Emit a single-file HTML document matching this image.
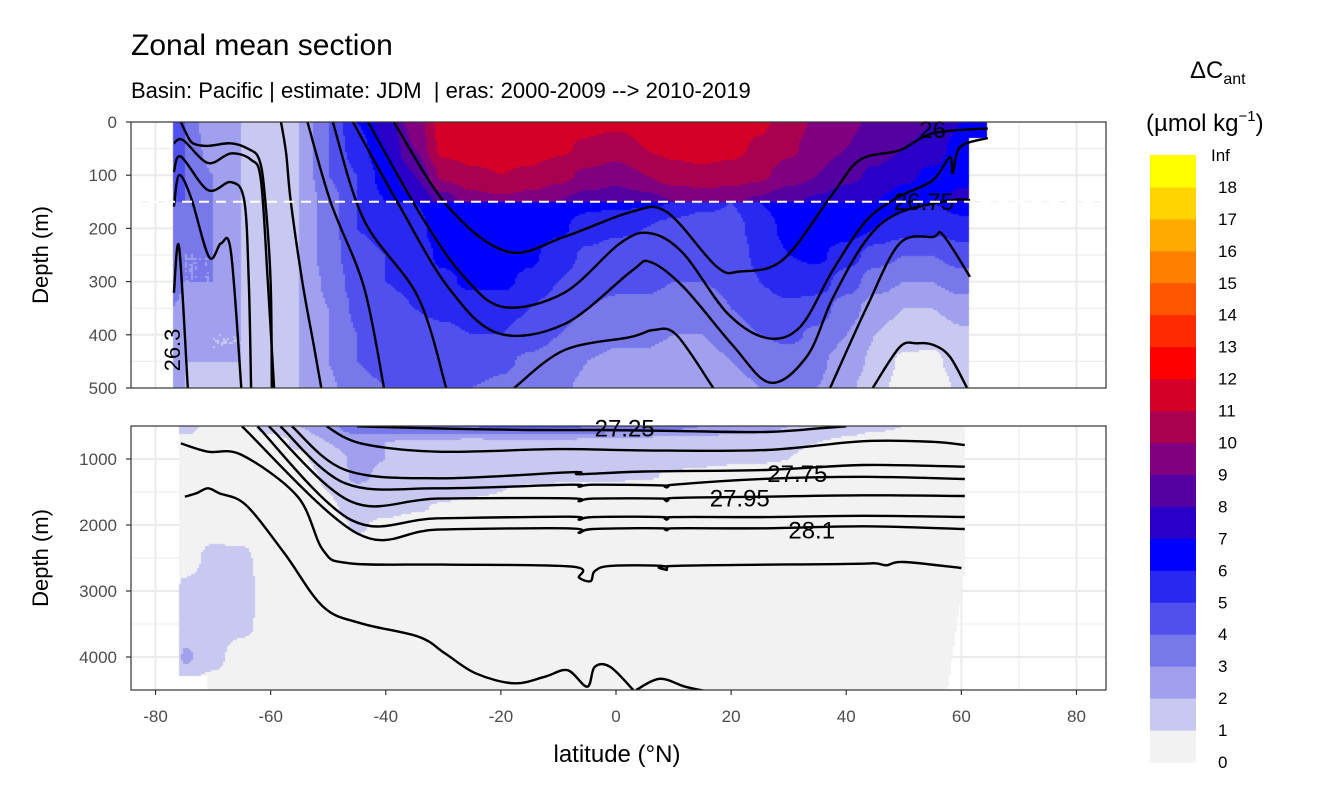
<!DOCTYPE html>
<html><head><meta charset="utf-8"><style>
body{margin:0;width:1344px;height:806px;background:#fff;overflow:hidden;position:relative;font-family:"Liberation Sans",sans-serif}
svg,canvas{position:absolute;left:0;top:0}
</style></head><body>
<svg id="under" width="1344" height="806"></svg>
<canvas id="cv" width="1344" height="806"></canvas>
<svg id="over" width="1344" height="806">
<text x="131" y="55" font-size="30" fill="#000">Zonal mean section</text>
<text x="131" y="98" font-size="22" fill="#000" xml:space="preserve" style="white-space:pre">Basin: Pacific | estimate: JDM  | eras: 2000-2009 --&gt; 2010-2019</text>
<text x="48" y="255" font-size="22" transform="rotate(-90 48 255)" text-anchor="middle">Depth (m)</text>
<text x="48" y="558" font-size="22" transform="rotate(-90 48 558)" text-anchor="middle">Depth (m)</text>
<text x="617" y="762" font-size="24" text-anchor="middle">latitude (°N)</text>
<text x="1190" y="78" font-size="24">ΔC<tspan font-size="16" dy="6">ant</tspan></text>
<text x="1146" y="131" font-size="24">(µmol kg<tspan font-size="15" dy="-10">−1</tspan><tspan dy="10">)</tspan></text>
</svg>
<script>
const lats=[-77,-75,-70,-65,-60,-55,-50,-45,-40,-35,-30,-25,-20,-15,-10,-5,0,5,10,15,20,25,30,35,40,45,50,55,60,62];
const depthsUpper=[0,50,100,150];
const valuesUpper=[
[5,4,2,2,1.5,2,4,6,7.5,9.5,11.5,11.5,11.5,11.5,11.5,11.3,11.2,11.4,11.5,11.5,11.5,11.2,10.5,9.8,9.2,8.8,8.5,8,7,7],
[5,4,2.5,2,1.5,2,4,5.5,7,9,11.3,11.5,11.5,11.5,11.2,10.8,10.5,11,11.3,11.5,11.3,10.8,10.2,9.5,9,8.5,8,7.5,6.5,6.5],
[5,4,3,2,1.5,2,4,5,6.5,8,10.2,10.8,11,10.8,10.3,9.8,9.5,10,10.5,10.7,10.5,10.2,9.5,9,8.3,7.8,7.2,6.8,6.5,6.5],
[4,4,3,2,1.5,2,3.5,5,6,7,8.5,9.5,9.8,9.5,9,8.5,8.2,8.5,9,9.2,9.2,8.8,8.2,7.8,7.2,7,6.5,6.3,7.5,7.5]];
const depthsLower=[150,200,250,300,350,400,450,500];
const valuesLower=[
[4,3.5,3,2,1.5,2,3.5,5,5.5,6,6.5,6.5,6.5,6.5,6.5,6.3,6.2,6.2,6,5.5,5,6,6.5,6.5,6.5,6.5,6.2,6,6.5,6.5],
[4,3.5,3,2,1.5,2,3.5,5,5.3,5.7,6.5,6.5,6.5,6.5,6.2,5.5,5.2,5,4.5,4,4.5,5.5,6.3,6.5,6.5,6,5.5,5.2,5.5,5.5],
[4,3,3,2,1.5,2,3.5,4.7,5,5.5,6.2,6.5,6.5,6.2,5.5,4.8,4.5,4.5,4.2,4,4.5,5.2,6,6.2,5.5,4.5,4,4,4.5,4.5],
[4,3,3,2,1.5,2,3.2,4.5,5,5.2,5.8,6.2,6.2,5.8,5,4.5,4.2,4.2,4,4,4.2,5,5.5,5.5,4.5,3.5,3,3,3.5,3.5],
[3,2.5,2.5,2,1.5,2,3,4.2,4.7,5,5.2,5.5,5.5,5,4.5,4,3.8,3.8,3.5,3.5,4,4.5,4.8,4.5,3.5,2.5,2,2,2.5,2.5],
[3,2.5,2,2,1.5,2,3,4,4.5,4.7,4.8,5,5,4.5,4,3.5,3.2,3.2,3,3,3.5,4,4.2,3.8,3,2,1.5,1.3,1.8,1.8],
[2.5,2,2,2,1.5,2,3,4,4.2,4.5,4.5,4.5,4.2,3.8,3.5,3,2.8,2.8,2.5,2.5,3,3.5,3.5,3.2,2.5,1.8,0.8,0.8,1.5,1.5],
[2.5,2,1.5,2,1.5,2,2.8,3.8,4,4.2,4.2,4,3.8,3.5,3.2,2.8,2.2,2,2,2,2.5,3,3,3,2.2,1.5,0.5,0.5,1.2,1.2]];
const depthsDeep=[500,750,1000,1250,1500,1750,2000,2500,3000,3500,4000,4500];
const valuesDeep=[
[2,1.5,0.5,0.5,1.5,2,2.8,3.5,3.8,4,4,4,4.2,4.2,4.2,4,3.8,3.5,3.2,3,2.8,2.5,2,1.8,1.5,1.2,1,1,0.8,0.8],
[0.5,0.5,0.5,0.5,0.5,1.2,2,2.5,2,1.8,1.8,1.7,1.8,1.8,1.8,1.7,1.6,1.5,1.5,1.4,1.3,1.2,1.1,1,0.8,0.5,0.5,0.5,0.5,0.5],
[0.5,0.5,0.5,0.5,0.5,0.8,1.5,2.2,2,1.7,1.6,1.5,1.5,1.5,1.5,1.5,1.4,1.4,1.3,1.3,1.2,1.1,1,0.8,0.5,0.5,0.5,0.5,0.5,0.5],
[0.5,0.5,0.5,0.5,0.5,0.5,1.2,2.2,1.8,1.5,1.4,1.3,1.3,1.3,1.3,1.3,1.2,1.1,0.9,0.7,0.5,0.5,0.5,0.5,0.5,0.5,0.5,0.5,0.5,0.5],
[0.5,0.5,0.5,0.5,0.5,0.5,1,1.8,1.5,1.3,1.2,1.1,1,0.8,0.6,0.5,0.5,0.5,0.5,0.5,0.5,0.5,0.5,0.5,0.5,0.5,0.5,0.5,0.5,0.5],
[0.5,0.5,0.5,0.5,0.5,0.5,0.8,1.5,1.3,1.1,0.9,0.7,0.5,0.5,0.5,0.5,0.5,0.5,0.5,0.5,0.5,0.5,0.5,0.5,0.5,0.5,0.5,0.5,0.5,0.5],
[0.5,0.5,0.5,0.5,0.5,0.5,0.5,1.1,0.8,0.5,0.5,0.5,0.5,0.5,0.5,0.5,0.5,0.5,0.5,0.5,0.5,0.5,0.5,0.5,0.5,0.5,0.5,0.5,0.5,0.5],
[0.5,0.5,1.3,1.2,0.5,0.5,0.5,0.5,0.5,0.5,0.5,0.5,0.5,0.5,0.5,0.5,0.5,0.5,0.5,0.5,0.5,0.5,0.5,0.5,0.5,0.5,0.5,0.5,0.5,0.5],
[0.5,1.3,1.5,1.4,0.5,0.5,0.5,0.5,0.5,0.5,0.5,0.5,0.5,0.5,0.5,0.5,0.5,0.5,0.5,0.5,0.5,0.5,0.5,0.5,0.5,0.5,0.5,0.5,0.5,0.5],
[0.5,1.3,1.5,1.3,0.5,0.5,0.5,0.5,0.5,0.5,0.5,0.5,0.5,0.5,0.5,0.5,0.5,0.5,0.5,0.5,0.5,0.5,0.5,0.5,0.5,0.5,0.5,0.5,0.5,0.5],
[0.5,2.2,1.3,0.5,0.5,0.5,0.5,0.5,0.5,0.5,0.5,0.5,0.5,0.5,0.5,0.5,0.5,0.5,0.5,0.5,0.5,0.5,0.5,0.5,0.5,0.5,0.5,0.5,0.5,0.5],
[0.5,0.5,0.5,0.5,0.5,0.5,0.5,0.5,0.5,0.5,0.5,0.5,0.5,0.5,0.5,0.5,0.5,0.5,0.5,0.5,0.5,0.5,0.5,0.5,0.5,0.5,0.5,0.5,0.5,0.5]];
const binColors=["#f2f2f2","#c8c8f0","#a0a0ee","#7878ea","#5050ee","#2828f0","#0000ff","#2a00c8","#5500a0","#800080","#aa0050","#d40028","#ff0000","#ff2a00","#ff5500","#ff8000","#ffaa00","#ffd400","#ffff00"];
const binLabels=["0","1","2","3","4","5","6","7","8","9","10","11","12","13","14","15","16","17","18","Inf"];
const xTicks=[-80,-60,-40,-20,0,20,40,60,80];
const yTicksTop=[0,100,200,300,400,500];
const yTicksBottom=[1000,2000,3000,4000];
const contoursTop=[
[[-76.8,321],[-75.9,235],[-74.4,500]],
[[-76.8,159],[-75.9,100],[-73.8,143],[-70.7,254],[-68.6,228],[-66.9,244],[-65.1,500]],
[[-76.8,94],[-75.6,65],[-70.9,128],[-66.9,113],[-64.6,147],[-63.8,300],[-63.4,500]],
[[-76.8,40],[-75.2,34],[-70.9,77],[-66.9,59],[-63.4,71],[-61.7,109],[-60.5,300],[-59.4,500]],
[[-75.6,0],[-74.5,25],[-73.5,40],[-71,45],[-67,40],[-64,50],[-62,70],[-61,140],[-60,300],[-59.8,500]],
[[-58.2,0],[-57.3,60],[-56.5,150],[-54.5,300],[-52.5,420],[-51.2,500]],
[[-53.6,0],[-49.5,153],[-43.8,310],[-40.3,500]],
[[-49.2,0],[-43.8,184],[-34.4,329],[-29.5,500]],
[[-17.7,500],[-9,429],[2.6,404],[6.5,391],[10.5,400],[16.9,500]],
[[37.2,500],[43.6,347],[49.3,228],[55.1,216],[56.8,212],[61.5,291]],
[[-45.7,0],[-37.9,152],[-29.2,310],[-20.5,397],[-9,380],[2.6,281],[5.9,263],[11.7,310],[20.3,420],[26.8,490],[33.2,440],[37.7,330],[43.6,220],[49.3,170],[58.5,147],[61.5,147]],
[[-43.1,0],[-33.4,184],[-26.4,291],[-19.5,348],[-9,321],[0.7,228],[5.9,209],[11.7,247],[19.3,359],[26.2,406],[32,385],[37.7,278],[43.6,184],[49.3,140],[55,110],[58,66],[58.5,96],[59.8,47],[64.6,30]],
[[-38.6,0],[-29.2,159],[-18.8,244],[-9,216],[2.6,169],[8.8,169],[17.5,272],[21.5,281],[29,259],[37.7,134],[42.4,71],[49.3,53],[55.1,21],[64.6,12]],
[[44.6,500],[49.3,423],[52.3,416],[55.1,419],[58,441],[61,500]]];
const contoursBottom=[
[[-45,505],[-30,540],[-15,560],[-2.8,561],[10,575],[26,591],[36,530],[40,505]],
[[-50.3,505],[-44.3,763],[-31,889],[-10,850],[5,870],[26,864],[43,730],[55,740],[60.6,790]],
[[-56.3,505],[-47,1167],[-31,1293],[-7.7,1200],[-6.4,1230],[5,1190],[26,1167],[43,1091],[60.6,1117]],
[[-58.3,505],[-47,1369],[-31,1444],[-8,1390],[-6.4,1420],[-4,1390],[8,1400],[8.8,1430],[10,1390],[26,1300],[43,1270],[60.6,1303]],
[[-60.3,505],[-46,1646],[-31,1600],[-8,1596],[-6.4,1640],[-4,1600],[8,1600],[8.8,1640],[10,1590],[26,1571],[43,1550],[60.6,1561]],
[[-62.3,505],[-46,1924],[-31,1899],[-8,1874],[-6.4,1920],[-4,1880],[8,1880],[8.8,1920],[10,1880],[26,1880],[43,1860],[60.6,1879]],
[[-65,505],[-45,2126],[-31,2070],[-8,2051],[-6.4,2120],[-4,2060],[8,2050],[8.8,2080],[10,2050],[26,2050],[43,2020],[60.6,2061]],
[[-75.6,763],[-70.9,889],[-65,939],[-55.3,1571],[-50.9,2380],[-46.3,2581],[-30,2600],[-7.7,2631],[-6.4,2800],[-4.4,2850],[-3.7,2700],[-1,2620],[8,2620],[8.8,2680],[10,2620],[40,2590],[45,2580],[47,2610],[50,2560],[60,2652]],
[[-74.9,1571],[-72.9,1520],[-70.9,1444],[-68.9,1520],[-64.3,1697],[-57.6,2430],[-50.9,3237],[-44.3,3490],[-34.3,3692],[-29.7,3945],[-24.4,4247],[-17.7,4399],[-12.4,4300],[-8.4,4200],[-5,4450],[-3.7,4150],[-1,4150],[3,4500]],
[[3.5,4500],[7.6,4330],[12,4450],[15.8,4520]]];
const contourLabels=[["26",55,15,"top"],["26.75",53.5,150,"top"],["27.25",1.5,540,"bot"],["27.75",31.5,1230,"bot"],["27.95",21.5,1600,"bot"],["28.1",34,2080,"bot"]];

const X=l=>616+l*5.756, YT=d=>122+d*0.532, YB=d=>426+(d-500)*0.066;
const NS="http://www.w3.org/2000/svg";
function mk(parent,tag,attrs){const e=document.createElementNS(NS,tag);for(const k in attrs)e.setAttribute(k,attrs[k]);parent.appendChild(e);return e;}
const U=document.getElementById('under'),O=document.getElementById('over');
const panels=[[122,388,YT,[0,50,100,150,200,250,300,350,400,450,500],100],[426,690,YB,[500,1000,1500,2000,2500,3000,3500,4000,4500],1000]];
panels.forEach((p,pi)=>{
  const g=mk(U,'g',{});
  
  
  for(let l=-80;l<=80;l+=10){const x=X(l);mk(g,'line',{x1:x,x2:x,y1:p[0],y2:p[1],stroke:'#ebebeb','stroke-width':l%20===0?2:1});}
  p[3].forEach(d=>{const y=p[2](d);if(y>p[0]&&y<p[1])mk(g,'line',{x1:131,x2:1106,y1:y,y2:y,stroke:'#ebebeb','stroke-width':d%p[4]===0?2:1});});
});
function idx(arr,v){let i=0;while(i<arr.length-2&&v>arr[i+1])i++;return i;}
function interp(ls,ds,M,lat,d){
  const i=idx(ls,lat),j=idx(ds,d);
  let tx=(lat-ls[i])/(ls[i+1]-ls[i]),ty=(d-ds[j])/(ds[j+1]-ds[j]);
  tx=Math.max(0,Math.min(1,tx));ty=Math.max(0,Math.min(1,ty));
  tx=tx*tx*(3-2*tx);ty=ty*ty*(3-2*ty);
  const a=M[j][i],b=M[j][i+1],c=M[j+1][i],e=M[j+1][i+1];
  return a*(1-tx)*(1-ty)+b*tx*(1-ty)+c*(1-tx)*ty+e*tx*ty;
}
const ctx=document.getElementById('cv').getContext('2d');
const S=2;
for(let px=131;px<1106;px+=S){
  const lat=(px+S/2-616)/5.756;
  for(let py=122;py<388;py+=S){
    const d=(py+S/2-122)/0.532;
    const maxLat=d<30?64.6:61.5;
    if(lat<-76.8||lat>maxLat)continue;
    const v=d<=150?interp(lats,depthsUpper,valuesUpper,lat,d):interp(lats,depthsLower,valuesLower,lat,d);
    ctx.fillStyle=binColors[Math.max(0,Math.min(18,Math.floor(v)))];ctx.fillRect(px,py,S,S);
  }
  for(let py=426;py<690;py+=S){
    const d=500+(py+S/2-426)/0.066;
    const maxLat=d<2700?60.6:60.6-(d-2700)/1800*3;
    const minLat=d<4300?-76:-71;
    if(lat<minLat||lat>maxLat)continue;
    const v=interp(lats,depthsDeep,valuesDeep,lat,d);
    ctx.fillStyle=binColors[Math.max(0,Math.min(18,Math.floor(v)))];ctx.fillRect(px,py,S,S);
  }
}
function smoothPath(pts){
  if(pts.length<3)return 'M'+pts.map(p=>p[0].toFixed(1)+','+p[1].toFixed(1)).join('L');
  let s='M'+pts[0][0].toFixed(1)+','+pts[0][1].toFixed(1);
  for(let i=0;i<pts.length-1;i++){
    const p0=pts[Math.max(0,i-1)],p1=pts[i],p2=pts[i+1],p3=pts[Math.min(pts.length-1,i+2)];
    const c1=[p1[0]+(p2[0]-p0[0])/6,p1[1]+(p2[1]-p0[1])/6],c2=[p2[0]-(p3[0]-p1[0])/6,p2[1]-(p3[1]-p1[1])/6];
    s+='C'+c1.map(v=>v.toFixed(1)).join(',')+' '+c2.map(v=>v.toFixed(1)).join(',')+' '+p2[0].toFixed(1)+','+p2[1].toFixed(1);
  }
  return s;
}
const cg=mk(O,'g',{fill:'none',stroke:'#000','stroke-width':2.4,'stroke-linejoin':'round'});


const clipT=mk(O,'clipPath',{id:'ct'});mk(clipT,'rect',{x:131,y:122,width:975,height:266});
const clipB=mk(O,'clipPath',{id:'cb'});mk(clipB,'rect',{x:131,y:426,width:975,height:264});
contoursTop.forEach(c=>{const p=mk(cg,'path',{d:smoothPath(c.map(q=>[X(q[0]),YT(q[1])])),'clip-path':'url(#ct)'});
  
  });
contoursBottom.forEach(c=>{const p=mk(cg,'path',{d:smoothPath(c.map(q=>[X(q[0]),YB(q[1])])),'clip-path':'url(#cb)'});
  
  });
contourLabels.forEach(L=>{const t=mk(O,'text',{x:X(L[1]),y:(L[3]==='top'?YT(L[2]):YB(L[2]))+8,'font-size':24,'text-anchor':'middle',fill:'#000'});t.textContent=L[0];
  
  });
const lt=mk(O,'text',{x:180,y:350,'font-size':22,transform:'rotate(-90 180 350)','text-anchor':'middle'});lt.textContent='26.3';


const dl=mk(O,'line',{x1:131,x2:1106,y1:YT(150),y2:YT(150),stroke:'#fff','stroke-width':2,'stroke-dasharray':'10,7'});


panels.forEach((p,pi)=>{
  const r=mk(O,'rect',{x:131,y:p[0],width:975,height:p[1]-p[0],fill:'none',stroke:'#333','stroke-width':1.2});
  
  
});
yTicksTop.forEach(d=>{const y=YT(d);mk(O,'line',{x1:126,x2:131,y1:y,y2:y,stroke:'#333','stroke-width':1.2});
  const t=mk(O,'text',{x:117,y:y+6,'font-size':17,'text-anchor':'end',fill:'#4d4d4d'});t.textContent=d;
  
  });
yTicksBottom.forEach(d=>{const y=YB(d);mk(O,'line',{x1:126,x2:131,y1:y,y2:y,stroke:'#333','stroke-width':1.2});
  const t=mk(O,'text',{x:117,y:y+6,'font-size':17,'text-anchor':'end',fill:'#4d4d4d'});t.textContent=d;
  
  });
xTicks.forEach(l=>{const x=X(l);mk(O,'line',{x1:x,x2:x,y1:690,y2:695,stroke:'#333','stroke-width':1.2});
  const t=mk(O,'text',{x:x,y:722,'font-size':17,'text-anchor':'middle',fill:'#4d4d4d'});t.textContent=l;
  
  });
const bh=(762-155)/19;
binColors.forEach((c,i)=>{const r=mk(O,'rect',{x:1150,y:762-(i+1)*bh,width:46,height:bh+0.5,fill:c});
  
  });
binLabels.forEach((s,i)=>{const t=mk(O,'text',{x:s==='Inf'?1211:1218,y:i===0?768:(762-i*bh+6),'font-size':17,fill:'#000'});t.textContent=s;
  
  });
</script>
</body></html>
